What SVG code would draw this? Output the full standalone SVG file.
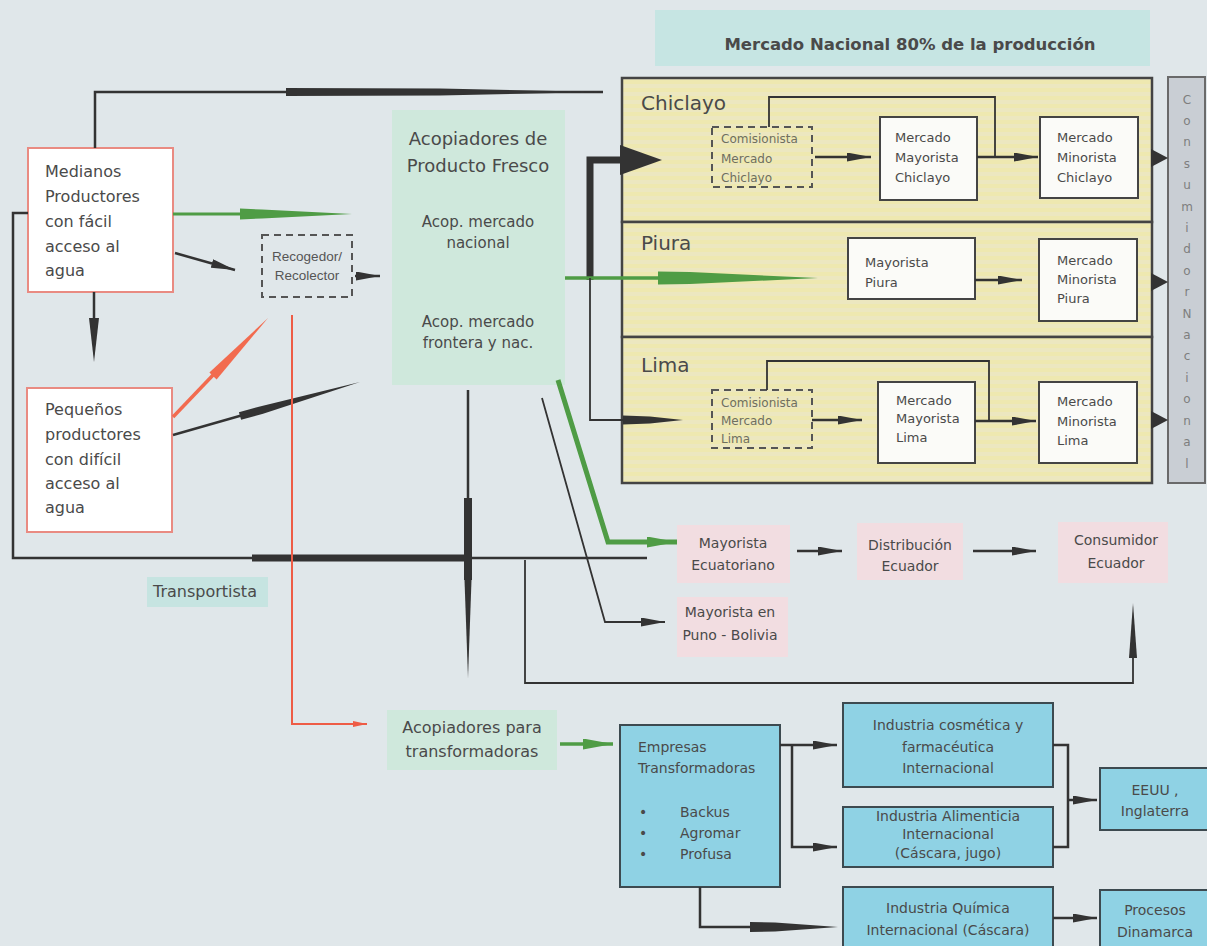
<svg xmlns="http://www.w3.org/2000/svg" width="1207" height="946" viewBox="0 0 1207 946">
<defs>
<style>
text{font-family:"DejaVu Sans","Liberation Sans",sans-serif;fill:#4a4a4a}
.t16{font-size:16px}.t18{font-size:18px}.t15{font-size:15px}.t14{font-size:14px}.t13{font-size:13px}.t12{font-size:12px}.t20{font-size:20px}
.mid{text-anchor:middle}
.cn{font-size:12px;text-anchor:middle;fill:#7e7e7e}
.ln{fill:none;stroke:#333;stroke-width:2.5}
.lnt{fill:none;stroke:#333;stroke-width:1.8}
.gr{fill:none;stroke:#4f9c45}
.rd{fill:none;stroke:#ee5c46;stroke-width:2}
.dk{fill:#333}
.gf{fill:#4f9c45}
.wbox{fill:#fbfbf8;stroke:#444;stroke-width:2}
.dash{fill:none;stroke:#555;stroke-width:2;stroke-dasharray:7 5}
.pink{fill:#f2dde1}
.blue{fill:#8fd2e4;stroke:#3d4a50;stroke-width:2}
.prod{fill:#ffffff;stroke:#e98b82;stroke-width:2}
.yel{fill:url(#stripes);stroke:#444;stroke-width:2.5}
</style>
<pattern id="stripes" patternUnits="userSpaceOnUse" width="10" height="8"><rect width="10" height="8" fill="#eee8b0"/><rect y="4" width="10" height="4" fill="#ece7c0"/></pattern>
<marker id="ah" markerUnits="userSpaceOnUse" markerWidth="24" markerHeight="9" refX="24" refY="4.5" orient="auto"><path d="M0,0 L24,4.5 L0,9 Z" fill="#333"/></marker>
<marker id="ahg" markerUnits="userSpaceOnUse" markerWidth="30" markerHeight="11" refX="30" refY="5.5" orient="auto"><path d="M0,0 L30,5.5 L0,11 Z" fill="#4f9c45"/></marker>
<marker id="ahr" markerUnits="userSpaceOnUse" markerWidth="14" markerHeight="6" refX="14" refY="3" orient="auto"><path d="M0,0 L14,3 L0,6 Z" fill="#ee5c46"/></marker>
</defs>
<rect width="1207" height="946" fill="#e0e7ea"/>

<g id="title">
<rect x="655" y="10" width="495" height="56" fill="#c6e5e3"/>
<text x="910" y="50" class="mid" style="font-size:16.5px;font-weight:bold">Mercado Nacional 80% de la producción</text>
</g>

<g id="chiclayo">
<rect x="622" y="78" width="530" height="144" class="yel"/>
<text x="641" y="110" class="t20">Chiclayo</text>
</g>
<g id="piura">
<rect x="622" y="222" width="530" height="115" class="yel"/>
<text x="641" y="250" class="t20">Piura</text>
</g>
<g id="lima">
<rect x="622" y="337" width="530" height="146" class="yel"/>
<text x="641" y="372" class="t20">Lima</text>
</g>

<g id="consumidor-nacional">
<rect x="1168" y="77" width="37" height="406" fill="#c9ced4" stroke="#6a6a6a" stroke-width="2"/>
<text x="1187" y="104" class="cn">C</text>
<text x="1187" y="125" class="cn">o</text>
<text x="1187" y="146" class="cn">n</text>
<text x="1187" y="168" class="cn">s</text>
<text x="1187" y="189" class="cn">u</text>
<text x="1187" y="211" class="cn">m</text>
<text x="1187" y="232" class="cn">i</text>
<text x="1187" y="253" class="cn">d</text>
<text x="1187" y="275" class="cn">o</text>
<text x="1187" y="296" class="cn">r</text>
<text x="1187" y="318" class="cn">N</text>
<text x="1187" y="339" class="cn">a</text>
<text x="1187" y="360" class="cn">c</text>
<text x="1187" y="382" class="cn">i</text>
<text x="1187" y="403" class="cn">o</text>
<text x="1187" y="425" class="cn">n</text>
<text x="1187" y="446" class="cn">a</text>
<text x="1187" y="468" class="cn">l</text>
</g>

<g id="medianos">
<rect x="28" y="148" width="145" height="144" class="prod"/>
<text class="t16" x="45" y="177">Medianos</text>
<text class="t16" x="45" y="202">Productores</text>
<text class="t16" x="45" y="227">con fácil</text>
<text class="t16" x="45" y="252">acceso al</text>
<text class="t16" x="45" y="276">agua</text>
</g>

<g id="pequenos">
<rect x="27" y="388" width="145" height="144" class="prod"/>
<text class="t16" x="45" y="415">Pequeños</text>
<text class="t16" x="45" y="440">productores</text>
<text class="t16" x="45" y="465">con difícil</text>
<text class="t16" x="45" y="489">acceso al</text>
<text class="t16" x="45" y="513">agua</text>
</g>

<g id="recogedor">
<rect x="262" y="235" width="90" height="62" class="dash"/>
<text x="307" y="261" class="mid" style="font-family:'Liberation Sans',sans-serif;font-size:13.5px;fill:#555">Recogedor/</text>
<text x="307" y="280" class="mid" style="font-family:'Liberation Sans',sans-serif;font-size:13.5px;fill:#555">Recolector</text>
</g>

<g id="acopiadores-fresco">
<rect x="392" y="110" width="173" height="275" fill="#cfe8dc"/>
<text class="t18 mid" x="478" y="145">Acopiadores de</text>
<text class="t18 mid" x="478" y="172">Producto Fresco</text>
<text class="t15 mid" x="478" y="227">Acop. mercado</text>
<text class="t15 mid" x="478" y="248">nacional</text>
<text class="t15 mid" x="478" y="327">Acop. mercado</text>
<text class="t15 mid" x="478" y="348">frontera y nac.</text>
</g>

<g id="transportista">
<rect x="147" y="577" width="121" height="30" fill="#c6e4e1"/>
<text class="t16" x="153" y="597">Transportista</text>
</g>

<g id="comisionista-chiclayo">
<rect x="712" y="127" width="100" height="60" class="dash"/>
<text class="t12" x="721" y="143" style="fill:#6f6f5f">Comisionista</text>
<text class="t12" x="721" y="163" style="fill:#6f6f5f">Mercado</text>
<text class="t12" x="721" y="182" style="fill:#6f6f5f">Chiclayo</text>
</g>
<g id="mayorista-chiclayo">
<rect x="880" y="117" width="97" height="83" class="wbox"/>
<text class="t13" x="895" y="142">Mercado</text>
<text class="t13" x="895" y="162">Mayorista</text>
<text class="t13" x="895" y="182">Chiclayo</text>
</g>
<g id="minorista-chiclayo">
<rect x="1040" y="117" width="98" height="81" class="wbox"/>
<text class="t13" x="1057" y="142">Mercado</text>
<text class="t13" x="1057" y="162">Minorista</text>
<text class="t13" x="1057" y="182">Chiclayo</text>
</g>

<g id="mayorista-piura">
<rect x="848" y="238" width="127" height="61" class="wbox"/>
<text class="t13" x="865" y="267">Mayorista</text>
<text class="t13" x="865" y="287">Piura</text>
</g>
<g id="minorista-piura">
<rect x="1039" y="239" width="98" height="82" class="wbox"/>
<text class="t13" x="1057" y="265">Mercado</text>
<text class="t13" x="1057" y="284">Minorista</text>
<text class="t13" x="1057" y="303">Piura</text>
</g>

<g id="comisionista-lima">
<rect x="712" y="390" width="100" height="58" class="dash"/>
<text class="t12" x="721" y="407" style="fill:#6f6f5f">Comisionista</text>
<text class="t12" x="721" y="425" style="fill:#6f6f5f">Mercado</text>
<text class="t12" x="721" y="443" style="fill:#6f6f5f">Lima</text>
</g>
<g id="mayorista-lima">
<rect x="878" y="382" width="97" height="81" class="wbox"/>
<text class="t13" x="896" y="405">Mercado</text>
<text class="t13" x="896" y="423">Mayorista</text>
<text class="t13" x="896" y="442">Lima</text>
</g>
<g id="minorista-lima">
<rect x="1039" y="382" width="98" height="81" class="wbox"/>
<text class="t13" x="1057" y="406">Mercado</text>
<text class="t13" x="1057" y="426">Minorista</text>
<text class="t13" x="1057" y="445">Lima</text>
</g>

<g id="mayorista-ecuatoriano">
<rect x="677" y="525" width="113" height="58" class="pink"/>
<text class="t14 mid" x="733" y="548">Mayorista</text>
<text class="t14 mid" x="733" y="570">Ecuatoriano</text>
</g>
<g id="mayorista-puno">
<rect x="677" y="597" width="111" height="60" class="pink"/>
<text class="t14 mid" x="730" y="617">Mayorista en</text>
<text class="t14 mid" x="730" y="640">Puno - Bolivia</text>
</g>
<g id="distribucion-ecuador">
<rect x="857" y="523" width="106" height="57" class="pink"/>
<text class="t14 mid" x="910" y="550">Distribución</text>
<text class="t14 mid" x="910" y="571">Ecuador</text>
</g>
<g id="consumidor-ecuador">
<rect x="1058" y="522" width="110" height="61" class="pink"/>
<text class="t14 mid" x="1116" y="545">Consumidor</text>
<text class="t14 mid" x="1116" y="568">Ecuador</text>
</g>

<g id="acopiadores-transformadoras">
<rect x="387" y="710" width="170" height="60" fill="#cfe8dc"/>
<text class="t16 mid" x="472" y="733">Acopiadores para</text>
<text class="t16 mid" x="472" y="757">transformadoras</text>
</g>

<g id="empresas">
<rect x="620" y="725" width="160" height="162" class="blue"/>
<text class="t14" x="638" y="752">Empresas</text>
<text class="t14" x="638" y="773">Transformadoras</text>
<text class="t14" x="639" y="817">•</text>
<text class="t14" x="639" y="838">•</text>
<text class="t14" x="639" y="859">•</text>
<text class="t14" x="680" y="817">Backus</text>
<text class="t14" x="680" y="838">Agromar</text>
<text class="t14" x="680" y="859">Profusa</text>
</g>

<g id="ind-cosmetica">
<rect x="843" y="703" width="210" height="84" class="blue"/>
<text class="t14 mid" x="948" y="730">Industria cosmética y</text>
<text class="t14 mid" x="948" y="752">farmacéutica</text>
<text class="t14 mid" x="948" y="773">Internacional</text>
</g>
<g id="ind-alimenticia">
<rect x="843" y="807" width="210" height="60" class="blue"/>
<text class="t14 mid" x="948" y="821">Industria Alimenticia</text>
<text class="t14 mid" x="948" y="839">Internacional</text>
<text class="t14 mid" x="948" y="858">(Cáscara, jugo)</text>
</g>
<g id="ind-quimica">
<rect x="843" y="887" width="210" height="66" class="blue"/>
<text class="t14 mid" x="948" y="913">Industria Química</text>
<text class="t14 mid" x="948" y="935">Internacional (Cáscara)</text>
</g>
<g id="eeuu">
<rect x="1100" y="768" width="112" height="62" class="blue"/>
<text class="t14 mid" x="1155" y="795">EEUU ,</text>
<text class="t14 mid" x="1155" y="816">Inglaterra</text>
</g>
<g id="dinamarca">
<rect x="1100" y="890" width="112" height="62" class="blue"/>
<text class="t14 mid" x="1155" y="915">Procesos</text>
<text class="t14 mid" x="1155" y="937">Dinamarca</text>
</g>

<g id="connectors">
<path class="ln" d="M95,148 V92 H603"/>
<polygon class="dk" points="286,88 440,88.5 603,92 440,95.5 286,96"/>
<path class="gr" stroke-width="3" d="M173,214 H250"/>
<polygon class="gf" points="240,208.5 262,209.5 352,214 262,218.5 240,219.5"/>
<path class="ln" d="M175,253 L235,270" marker-end="url(#ah)"/>
<path class="ln" d="M94,292 V320"/>
<polygon class="dk" points="89,318 99,318 94,362"/>
<path class="ln" d="M28,213 H13 V558 H647"/>
<rect class="dk" x="252" y="554.5" width="216" height="7"/>
<path class="ln" d="M355,276 H380" stroke-width="2" marker-end="url(#ah)"/>
<path d="M173,417 L215,373" fill="none" stroke="#f26b4f" stroke-width="3.5"/>
<polygon fill="#f26b4f" points="216.6,379.5 268,318 209.4,372.5"/>
<path class="ln" d="M173,435 L250,413"/>
<polygon class="dk" points="238.9,412.2 260.9,406.2 360,382 263.1,413.8 241.1,419.8"/>
<path class="rd" d="M292,315 V724 H367" marker-end="url(#ahr)"/>
<path fill="none" stroke="#333" stroke-width="7" d="M590,280 V160 H624"/>
<polygon class="dk" points="620,145 662,160 620,175"/>
<path class="gr" stroke-width="3.5" d="M565,278 H670"/>
<polygon class="gf" points="658,271.5 690,272 818,278 690,284 658,284.5"/>
<path class="lnt" d="M590,278 V420 H630"/>
<polygon class="dk" points="623,415.5 650,416.5 683,420 650,423.5 623,424.5"/>
<path class="ln" d="M468,390 V500"/>
<rect class="dk" x="464" y="498" width="8" height="82"/>
<polygon class="dk" points="464.5,580 471.5,580 468,678"/>
<path class="lnt" d="M542,398 L605,622 H665" marker-end="url(#ah)"/>
<path class="gr" stroke-width="5" d="M558,380 L608,542 H677" marker-end="url(#ahg)"/>
<path class="lnt" d="M525,560 V683 H1133 V640"/>
<polygon class="dk" points="1129,658 1137,658 1133,603"/>
<path class="ln" d="M797,551 H842" stroke-width="3" marker-end="url(#ah)"/>
<path class="ln" d="M973,551 H1036" stroke-width="3" marker-end="url(#ah)"/>
<path class="ln" d="M815,157 H871" marker-end="url(#ah)"/>
<path class="ln" d="M977,157 H1038" stroke-width="3" marker-end="url(#ah)"/>
<path class="lnt" d="M769,127 V97 H995 V157"/>
<path class="ln" d="M975,280 H1022" stroke-width="3" marker-end="url(#ah)"/>
<path class="ln" d="M812,420 H862" marker-end="url(#ah)"/>
<path class="ln" d="M975,421 H1036" stroke-width="3" marker-end="url(#ah)"/>
<path class="lnt" d="M767,390 V361 H989 V421"/>
<polygon class="dk" points="1151,149 1168,158 1151,167"/>
<polygon class="dk" points="1151,273 1168,282 1151,291"/>
<polygon class="dk" points="1151,411 1168,420 1151,429"/>
<path class="gr" stroke-width="3.5" d="M560,744 H613" marker-end="url(#ahg)"/>
<path class="ln" d="M780,745 H837" marker-end="url(#ah)"/>
<path class="ln" d="M792,745 V847 H837" marker-end="url(#ah)"/>
<path class="ln" d="M700,887 V927 H760"/>
<polygon class="dk" points="750,922 775,922.5 838,927 775,931.5 750,932"/>
<path class="ln" d="M1053,745 H1068 V847 H1053"/>
<path class="ln" d="M1068,800 H1097" marker-end="url(#ah)"/>
<path class="ln" d="M1053,918 H1097" stroke-width="3" marker-end="url(#ah)"/>
</g>
</svg>
